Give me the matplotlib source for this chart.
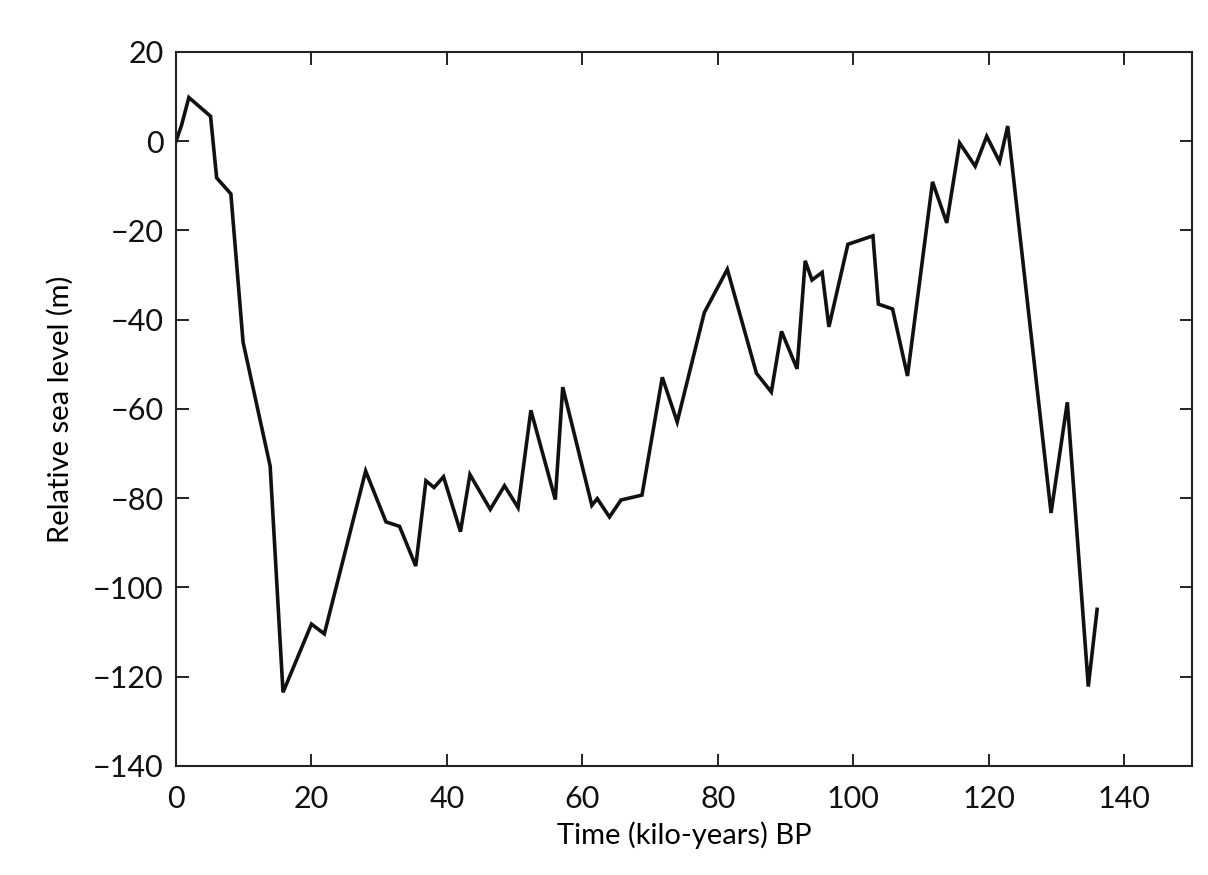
import matplotlib.pyplot as plt

# sea level curve
time_ka = [0, 0.8, 1.9, 5.1, 6.0, 8.1, 9.9, 13.9, 15.8, 20.0, 21.9, 28.0, 31.0,
           33.0, 35.4, 36.9, 38.1, 39.5, 42.0, 43.4, 46.4, 48.5, 50.5, 52.4,
           56.0, 57.1, 61.4, 62.2, 64.0, 65.7, 68.8, 71.8, 74.0, 78.0, 81.4,
           85.7, 87.9, 89.4, 91.7, 92.9, 93.9, 95.4, 96.4, 99.2, 102.9, 103.7,
           105.8, 108.0, 111.7, 113.8, 115.7, 118.0, 119.7, 121.6, 122.8,
           129.2, 131.6, 134.7, 136.0]
sea_level = [0, 3.5, 9.8, 5.6, -8.2, -11.8, -45, -72.8, -123.5, -108.2, -110.4,
             -73.9, -85.3, -86.3, -95.2, -76.1, -77.6, -75.2, -87.5, -74.7,
             -82.5, -77.2, -82.1, -60.3, -80.3, -55.1, -81.6, -80.1, -84.2,
             -80.4, -79.3, -52.9, -62.9, -38.4, -28.7, -52.0, -56.2, -42.6,
             -51.0, -26.8, -31.1, -29.4, -41.6, -23.1, -21.2, -36.5, -37.6,
             -52.6, -9.1, -18.3, -0.4, -5.6, 1.1, -4.6, 3.4, -83.3, -58.5,
             -122.2, -104.9]

xticks = [0, 20, 40, 60, 80, 100, 120, 140]
yticks = [20, 0, -20, -40, -60, -80, -100, -120, -140]

plt.rcParams['font.family'] = ['Lato', 'DejaVu Sans']

fig = plt.figure(figsize=(12.08, 8.75), dpi=100, facecolor='white')
ax = fig.add_axes([0.1457, 0.1246, 0.841, 0.816])

ax.plot(time_ka, sea_level, color='#111111', lw=2.6, solid_joinstyle='miter')

ax.set_xlim(0, 150)
ax.set_ylim(-140, 20)
ax.set_xticks(xticks)
ax.set_yticks(yticks)
ax.tick_params(direction='in', length=9, width=1.3, top=True, right=True,
               labelsize=22, colors='#111111')
ax.tick_params(axis='x', pad=14)
ax.tick_params(axis='y', pad=9)
for s in ax.spines.values():
    s.set_linewidth(1.5)
    s.set_color('#222222')

ax.set_xlabel('Time (kilo-years) BP', fontsize=21, labelpad=6)
ax.set_ylabel('Relative sea level (m)', fontsize=21, labelpad=14)

plt.savefig('out.png', dpi=100)
